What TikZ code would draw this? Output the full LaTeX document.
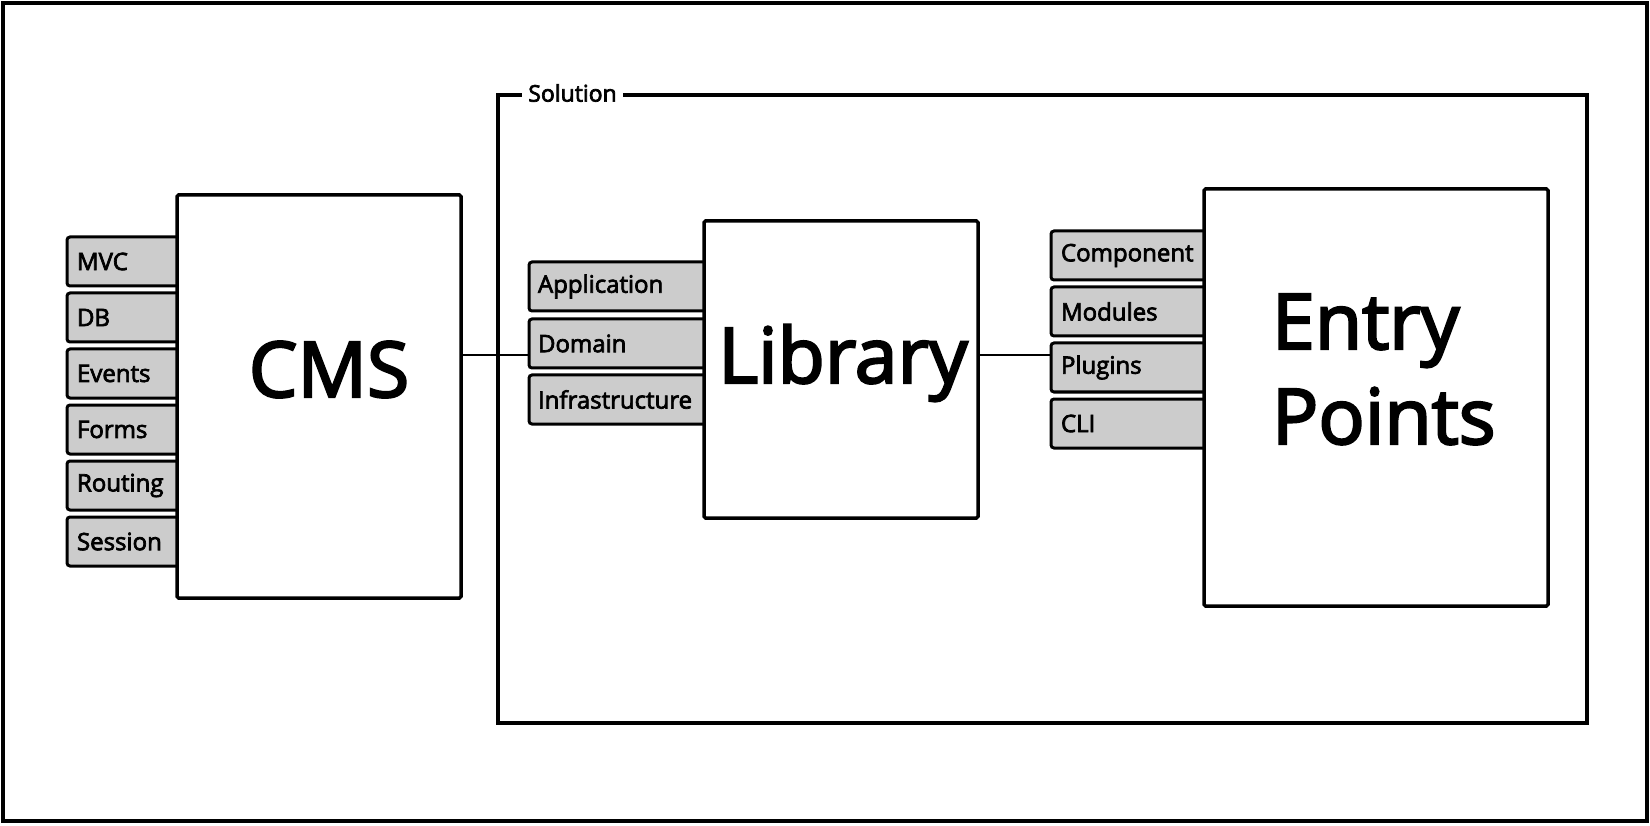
\documentclass[tikz,border=0pt]{standalone}
\usepackage{fontspec}
\setmainfont{Open Sans}[FakeBold=3]
\definecolor{tabgray}{HTML}{CCCCCC}
\begin{document}
\begin{tikzpicture}[x=1pt,y=-1pt,
  frame/.style={draw=black, line width=4pt},
  solbox/.style={draw=black, fill=white, line width=4pt, anchor=north west, outer sep=0pt, inner sep=0pt},
  bigbox/.style={draw=black, fill=white, line width=3.5pt, rounded corners=1.5pt, anchor=north west, outer sep=0pt, inner sep=0pt},
  tabbase/.style={draw=black, fill=tabgray, line width=3pt, rounded corners=3pt, anchor=north west, outer sep=0pt, inner ysep=0pt, minimum height=49pt, align=left, font=\fontsize{24}{28}\selectfont},
  cmstab/.style={tabbase, inner xsep=10pt, text width=100pt},
  libtab/.style={tabbase, inner xsep=9pt, text width=167pt},
  eptab/.style={tabbase, inner xsep=10pt, text width=144pt},
  bigtext/.style={inner sep=0pt, outer sep=0pt, font=\fontsize{77}{95}\selectfont},
  conn/.style={draw=black, line width=2.5pt},
  sollabel/.style={fill=white, inner xsep=6pt, inner ysep=2pt, font=\fontsize{23}{27}\selectfont}
]
\useasboundingbox (0,0) rectangle (1650,826);
\draw[frame] (3,3) rectangle (1647,821);

% Solution container
\node[solbox, minimum width=1089pt, minimum height=628pt] (sol) at (498,95) {};
\node[sollabel] (soltxt) at (572.5,93) {Solution};

% CMS tabs
\node[cmstab] (mvc) at (67,237) {MVC};
\node[cmstab] (db) at (67,293) {DB};
\node[cmstab] (events) at (67,349) {Events};
\node[cmstab] (forms) at (67,405) {Forms};
\node[cmstab] (routing) at (67,461) {Routing};
\node[cmstab] (session) at (67,517) {Session};

% Library tabs
\node[libtab] (application) at (529,262) {Application};
\node[libtab] (domain) at (529,319) {Domain};
\node[libtab] (infra) at (529,375) {Infrastructure};

% Entry point tabs
\node[eptab] (component) at (1051,231) {Component};
\node[eptab] (modules) at (1051,287) {Modules};
\node[eptab] (plugins) at (1051,343) {Plugins};
\node[eptab] (cli) at (1051,399) {CLI};

% Main boxes
\node[bigbox, minimum width=284pt, minimum height=403pt] (cms) at (177,195) {};
\node[bigbox, minimum width=274pt, minimum height=297pt] (lib) at (704,221) {};
\node[bigbox, minimum width=344pt, minimum height=417pt] (ep) at (1204,189) {};

% Big labels
\node[bigtext, anchor=base] (cmstxt) at (329,397) {CMS};
\node[bigtext, anchor=base] (libtxt) at (843,383) {Library};
\node[bigtext, anchor=north west, align=left] (eptxt) at (1272,294) {Entry\\Points};

% Connectors
\coordinate (cy) at (0,355);
\draw[conn] (cms.east |- cy) -- (domain.west |- cy);
\draw[conn] (lib.east |- cy) -- (plugins.west |- cy);
\end{tikzpicture}
\end{document}
